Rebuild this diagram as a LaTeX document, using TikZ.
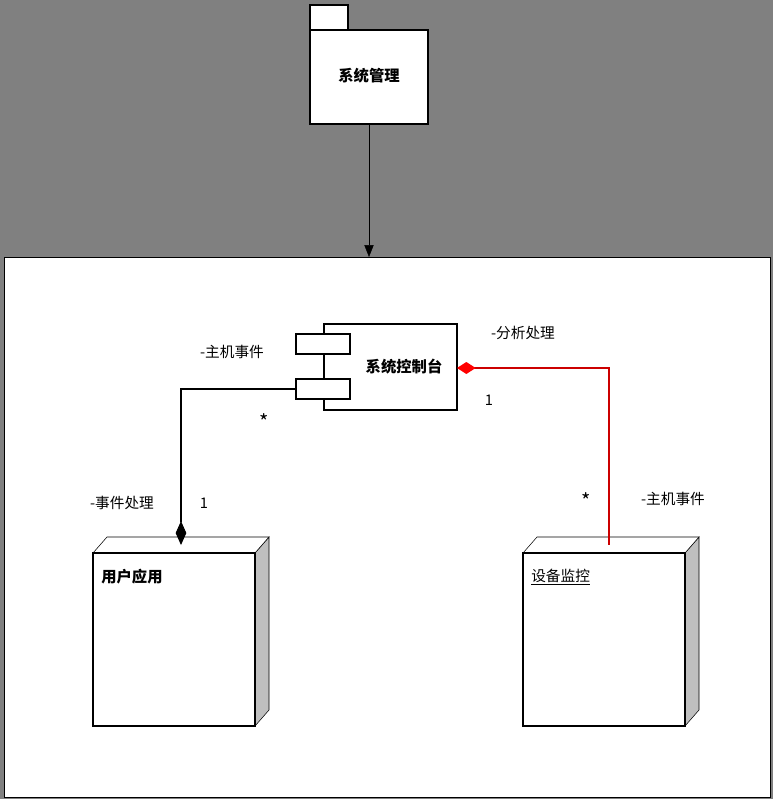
\documentclass[tikz,border=0pt]{standalone}
\usepackage{fontspec}
\setmainfont{Noto Sans CJK SC}
\usetikzlibrary{arrows.meta}
\begin{document}
\begin{tikzpicture}[x=0.75pt,y=-0.75pt,
  lbl/.style={font=\fontsize{11}{13}\selectfont,inner sep=0pt},
  star/.style={font=\fontsize{15}{15}\selectfont,inner sep=0pt},
  bold/.style={font=\fontsize{11.5}{13}\selectfont\bfseries,inner sep=0pt},
  box/.style={draw=black,fill=white,line width=0.8pt}]
\fill[black!50] (0,0) rectangle (773,799);
\useasboundingbox (0,0) rectangle (773,799);
\fill[white,draw=black] (4,257) rectangle (770,797);
% package
\draw[box] (310,5) rectangle (348,30);
\draw[box] (310,30) rectangle (428,124);
\node[bold] (pkg) at (369,76) {系统管理};
\coordinate (pkgb) at (369,124);
\coordinate (frt) at (369,257);
\draw[-{Triangle[length=9pt,width=7pt]}] (pkgb) -- (frt);
% component
\draw[box] (324,324) rectangle (457,410);
\draw[box] (296,334) rectangle (350,354);
\draw[box] (296,379) rectangle (350,399);
\node[bold] (cc) at (404,367) {系统控制台};
\coordinate (cl) at (296,389);
\coordinate (cr) at (457,368);
% nodes
\foreach \x/\n in {93/ua,523/dm}{
  \fill[black!25,draw=black] (\x+162,553) -- (\x+176,537) -- (\x+176,710) -- (\x+162,726) -- cycle;
  \fill[white,draw=black] (\x,553) -- (\x+14,537) -- (\x+176,537) -- (\x+162,553) -- cycle;
  \draw[box] (\x,553) rectangle (\x+162,726);
}
\node[bold,anchor=west] (uat) at (101,577) {用户应用};
\node[lbl,anchor=west] (dmt) at (531,577) {\underline{设备监控}};
\coordinate (uatop) at (181,545);
\coordinate (dmtop) at (609,545);
% connectors
\draw[line width=0.8pt,{Diamond[length=18pt,width=8pt]}-] (uatop) -- (181,389) -- (cl);
\draw[red!80!black,line width=2.2pt,{Diamond[length=14pt,width=9pt,red]}-] (cr) -- (609,368) -- (dmtop);
% labels
\node[lbl] at (232,352) {-主机事件};
\node[star] at (264,422) {*};
\node[lbl] at (122,503) {-事件处理};
\node[lbl] at (204,503) {1};
\node[lbl] at (523,333) {-分析处理};
\node[lbl] at (489,400) {1};
\node[star] at (586,501) {*};
\node[lbl] at (673,499) {-主机事件};
\end{tikzpicture}
\end{document}
